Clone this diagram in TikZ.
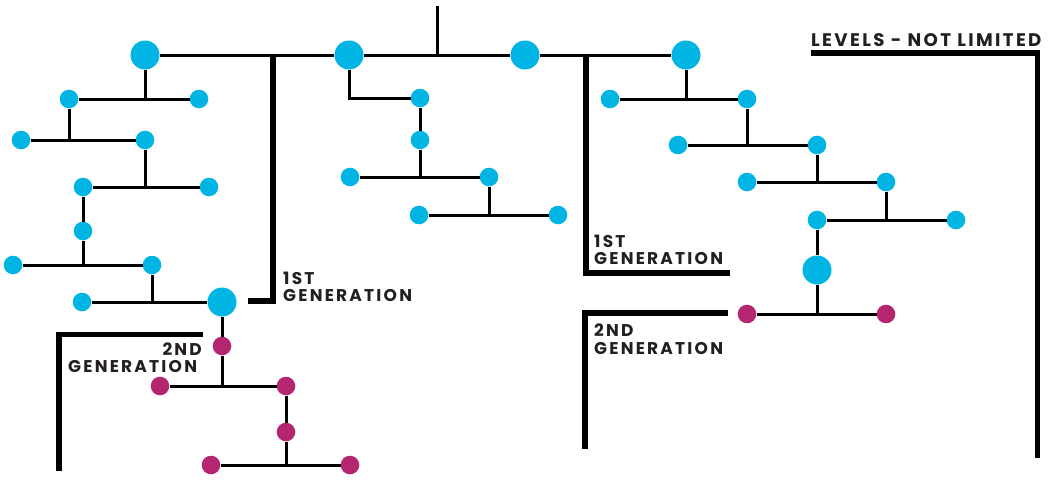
\documentclass[tikz,border=0pt]{standalone}
\usepackage{fontspec}
\newfontfamily\labfont{Poppins}[LetterSpace=13]
\definecolor{nodeblue}{RGB}{0,180,228}
\definecolor{nodemag}{RGB}{180,38,112}
\definecolor{labtext}{RGB}{35,31,32}
\begin{document}
\begin{tikzpicture}[x=1pt,y=-1pt,
  big/.style={circle,fill=nodeblue,inner sep=0,minimum size=29pt},
  sm/.style={circle,fill=nodeblue,inner sep=0,minimum size=18.6pt},
  smm/.style={sm,fill=nodemag},
  link/.style={draw=black,line width=3pt},
  bracket/.style={draw=black,line width=5.5pt},
  lab/.style={inner sep=0,font=\labfont\bfseries\fontsize{17}{17}\selectfont,text=labtext},
  labbig/.style={lab,font=\labfont\bfseries\fontsize{18.2}{18.2}\selectfont},
]
\useasboundingbox (0,0) rectangle (1051,479);
% top level
\node[big] (A1) at (145,55) {};
\node[big] (A2) at (349,55) {};
\node[big] (A3) at (525,55) {};
\node[big] (A4) at (686,55) {};
\coordinate (R) at (437,6);
% left tree
\node[sm] (B1) at (69,99) {};
\node[sm] (B2) at (199,99) {};
\node[sm] (C1) at (21,140) {};
\node[sm] (C2) at (145,140) {};
\node[sm] (D1) at (83,187) {};
\node[sm] (D2) at (209,187) {};
\node[sm] (E1) at (83,231) {};
\node[sm] (F1) at (13,265) {};
\node[sm] (F2) at (152,265) {};
\node[sm] (G1) at (82,302) {};
\node[big] (G2) at (222,302) {};
\node[smm] (H1) at (222,346) {};
\node[smm] (I1) at (160,386) {};
\node[smm] (I2) at (286,386) {};
\node[smm] (J1) at (286,432) {};
\node[smm] (K1) at (211,465) {};
\node[smm] (K2) at (350,465) {};
% middle tree
\node[sm] (L1) at (420,98) {};
\node[sm] (L2) at (420,140) {};
\node[sm] (M1) at (350,177) {};
\node[sm] (M2) at (489,177) {};
\node[sm] (N1) at (419,215) {};
\node[sm] (N2) at (558,215) {};
% right tree
\node[sm] (P1) at (610,99) {};
\node[sm] (P2) at (747,99) {};
\node[sm] (Q1) at (678,145) {};
\node[sm] (Q2) at (817,145) {};
\node[sm] (R1) at (747,182) {};
\node[sm] (R2) at (886,182) {};
\node[sm] (S1) at (817,220) {};
\node[sm] (S2) at (956,220) {};
\node[big] (T) at (817,270) {};
\node[smm] (U1) at (747,314) {};
\node[smm] (U2) at (886,314) {};
% connectors
\draw[link] (A1) -- (A2) -- (A3) -- (A4);
\draw[link] (R) -- (R |- A1);
\draw[link] (A1) -- (A1 |- B1);
\draw[link] (B1) -- (B2);
\draw[link] (B1) -- (B1 |- C1);
\draw[link] (C1) -- (C2);
\draw[link] (C2) -- (C2 |- D1);
\draw[link] (D1) -- (D2);
\draw[link] (D1) -- (E1);
\draw[link] (E1) -- (E1 |- F1);
\draw[link] (F1) -- (F2);
\draw[link] (F2) -- (F2 |- G1);
\draw[link] (G1) -- (G2);
\draw[link] (G2) -- (H1);
\draw[link] (H1) -- (H1 |- I1);
\draw[link] (I1) -- (I2);
\draw[link] (I2) -- (J1);
\draw[link] (J1) -- (J1 |- K1);
\draw[link] (K1) -- (K2);
\draw[link] (A2) |- (L1);
\draw[link] (L1) -- (L2);
\draw[link] (L2) -- (L2 |- M1);
\draw[link] (M1) -- (M2);
\draw[link] (M2) -- (M2 |- N1);
\draw[link] (N1) -- (N2);
\draw[link] (A4) -- (A4 |- P1);
\draw[link] (P1) -- (P2);
\draw[link] (P2) -- (P2 |- Q1);
\draw[link] (Q1) -- (Q2);
\draw[link] (Q2) -- (Q2 |- R1);
\draw[link] (R1) -- (R2);
\draw[link] (R2) -- (R2 |- S1);
\draw[link] (S1) -- (S2);
\draw[link] (S1) -- (T);
\draw[link] (T) -- (T |- U1);
\draw[link] (U1) -- (U2);
% brackets
\draw[bracket] (273,56) -- (273,301) -- (248,301);
\draw[bracket] (586,56) -- (586,273) -- (730,273);
\draw[bracket] (203,334.5) -- (59,334.5) -- (59,471);
\draw[bracket] (728,313) -- (585,313) -- (585,449);
\draw[bracket] (811,53) -- (1037.5,53) -- (1037.5,458);
% labels
\node[lab,anchor=base west] (g1a) at (283,284) {1ST};
\node[lab,anchor=base west] (g1b) at (283,301) {GENERATION};
\node[lab,anchor=base west] (g2a) at (594,247) {1ST};
\node[lab,anchor=base west] (g2b) at (594,264) {GENERATION};
\node[lab,anchor=base east] (h1a) at (202,355) {2ND};
\node[lab,anchor=base west] (h1b) at (68,372) {GENERATION};
\node[lab,anchor=base west] (h2a) at (594,336) {2ND};
\node[lab,anchor=base west] (h2b) at (594,354) {GENERATION};
\node[labbig,anchor=base west] (lv) at (811,46) {LEVELS - NOT LIMITED};
\end{tikzpicture}
\end{document}
